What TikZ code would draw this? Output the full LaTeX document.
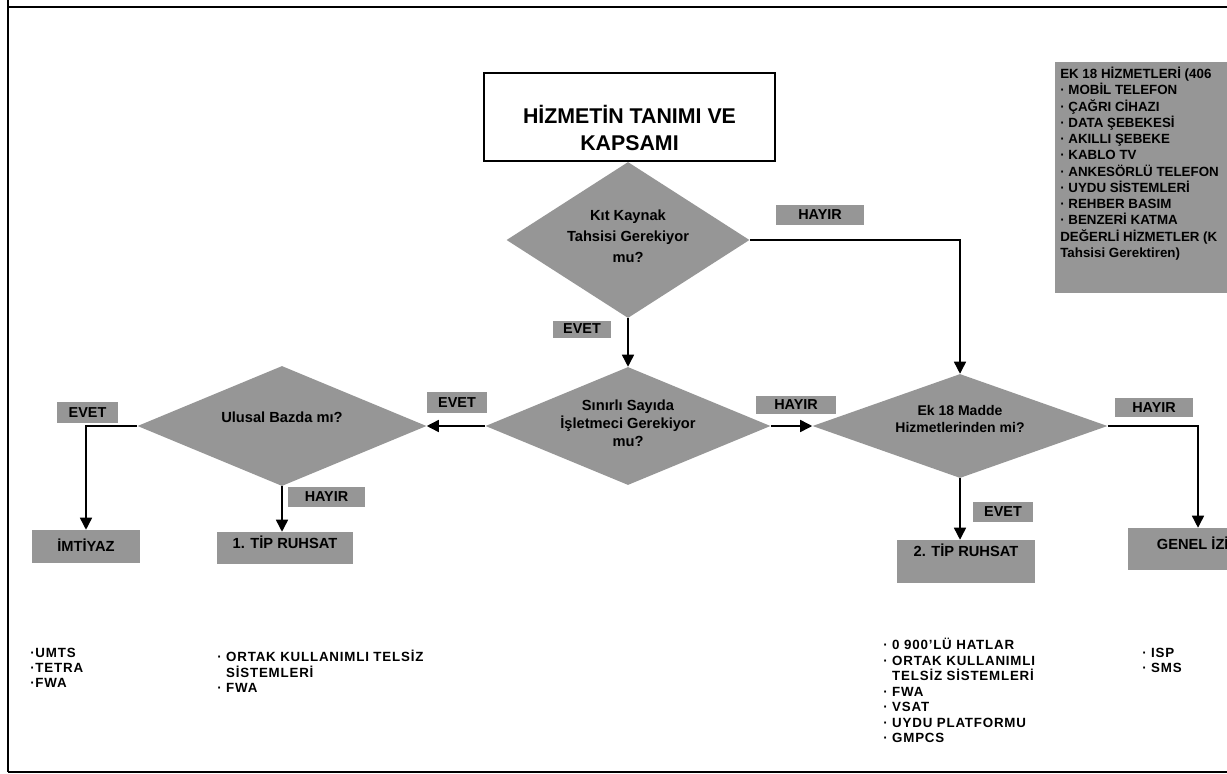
\documentclass[tikz,border=0pt]{standalone}
\usepackage{fontspec}
\setmainfont{Liberation Sans}
\newfontfamily\listefont{Liberation Sans}[LetterSpace=6]
\usetikzlibrary{arrows.meta, calc, positioning, shapes.geometric}
\definecolor{kutugri}{HTML}{969696}

\begin{document}
\begin{tikzpicture}[x=0.75pt, y=-0.75pt,
        karar/.style={diamond, fill=kutugri, inner sep=0pt},
        kararyazi/.style={font=\bfseries\fontsize{11}{13.5}\selectfont,
          align=center, inner sep=0pt},
        etiket/.style={fill=kutugri, inner sep=0pt,
          font=\bfseries\fontsize{10.8}{12}\selectfont},
        sonuc/.style={fill=kutugri, inner sep=0pt},
        sonucyazi/.style={font=\bfseries\fontsize{11}{12}\selectfont, inner sep=0pt},
        liste/.style={anchor=base west, align=left, inner sep=0pt,
          font=\listefont\bfseries\fontsize{10}{11.6}\selectfont},
        ok/.style={-{Triangle[width=9pt,length=9pt]}, line width=1.1pt},
        hat/.style={line width=1.1pt}
      ]
      \useasboundingbox (0,0) rectangle (1227,774);
      \clip (0,0) rectangle (1227,774);

      % page frame
      \draw[line width=1.3pt] (8,0) -- (8,772);
      \draw[line width=1.3pt] (8,7) -- (1227,7);
      \draw[line width=1.3pt] (8,772) -- (1227,772);

      % title
      \node[draw, line width=1.1pt, minimum width=218.25pt, minimum height=66pt]
        (baslik) at (629.5,117) {};
      \node[font=\bfseries\fontsize{16}{20}\selectfont, align=center, inner sep=0pt]
        (basliky) at (629.5,128) {HİZMETİN TANIMI VE\\KAPSAMI};

      % decisions
      \node[karar, minimum width=182.25pt, minimum height=117pt] (kit) at (628,240) {};
      \node[kararyazi, font=\bfseries\fontsize{11}{15.75}\selectfont] (kity) at (628,236)
        {Kıt Kaynak\\Tahsisi Gerekiyor\\mu?};
      \node[karar, minimum width=213.75pt, minimum height=88.5pt] (sinirli) at (628,426) {};
      \node[kararyazi] (sinirliy) at (628,423) {Sınırlı Sayıda\\İşletmeci Gerekiyor\\mu?};
      \node[karar, minimum width=221.25pt, minimum height=78pt] (ek) at (960,426) {};
      \node[kararyazi, font=\bfseries\fontsize{10.5}{12.75}\selectfont] (eky) at (960,418.5)
        {Ek 18 Madde\\Hizmetlerinden mi?};
      \node[karar, minimum width=216.75pt, minimum height=90pt] (ulusal) at (282,426) {};
      \node[kararyazi] (ulusaly) at (282,417) {Ulusal Bazda mı?};

      % results
      \node[sonuc, minimum width=81pt, minimum height=24.75pt] (imtiyaz) at (86,546.5) {};
      \node[sonucyazi] (imtiyazy) at (86,545) {İMTİYAZ};
      \node[sonuc, minimum width=102pt, minimum height=24pt] (tipbir) at (285,548) {};
      \node[sonucyazi] (tipbiry) at (285,542) {1. TİP RUHSAT};
      \node[sonuc, minimum width=103.5pt, minimum height=32.25pt] (tipiki) at (966,561.5) {};
      \node[sonucyazi] (tipikiy) at (966,550) {2. TİP RUHSAT};
      \node[sonuc, minimum width=105pt, minimum height=31.5pt] (genel) at (1198,549) {};
      \node[sonucyazi] (genely) at (1198,543) {GENEL İZİN};

      % yes / no tags
      \node[etiket, minimum width=43.5pt, minimum height=12.75pt] (e1) at (582,329) {EVET};
      \node[etiket, minimum width=66pt, minimum height=15pt] (h1) at (820,215) {HAYIR};
      \node[etiket, minimum width=45pt, minimum height=15.75pt] (e2) at (457,402.5) {EVET};
      \node[etiket, minimum width=60pt, minimum height=13.5pt] (h2) at (796,405) {HAYIR};
      \node[etiket, minimum width=58.5pt, minimum height=14.25pt] (h3) at (1154,407.5) {HAYIR};
      \node[etiket, minimum width=45pt, minimum height=15pt] (e3) at (1003,512) {EVET};
      \node[etiket, minimum width=45.75pt, minimum height=15.75pt] (e4) at (87.5,412.5) {EVET};
      \node[etiket, minimum width=57.75pt, minimum height=15pt] (h4) at (326.5,497) {HAYIR};

      % connectors
      \draw[ok] (kit.south) -- (sinirli.north);
      \draw[ok] (kit.east) -- (kit.east -| ek.north) -- (ek.north);
      \draw[ok] (sinirli.east) -- (ek.west);
      \draw[ok] (sinirli.west) -- (ulusal.east);
      \draw[ok] (ek.east) -| (genel.north);
      \draw[ok] (ek.south) -- (ek.south |- tipiki.north);
      \draw[ok] (ulusal.west) -| (imtiyaz.north);
      \draw[ok] (ulusal.south) -- (ulusal.south |- tipbir.north);

      % EK 18 list box (anchored on the baseline of its last line)
      \node[fill=kutugri, inner sep=0pt, anchor=north west, minimum width=250pt,
            minimum height=173.25pt] (ekkutu) at (1055,62) {};
      \node[anchor=base west, align=left, inner sep=0pt,
            font=\bfseries\fontsize{10}{12.2}\selectfont] (ekliste) at (1060,257.5)
        {EK 18 HİZMETLERİ (406\\
         · MOBİL TELEFON\\
         · ÇAĞRI CİHAZI\\
         · DATA ŞEBEKESİ\\
         · AKILLI ŞEBEKE\\
         · KABLO TV\\
         · ANKESÖRLÜ TELEFON\\
         · UYDU SİSTEMLERİ\\
         · REHBER BASIM\\
         · BENZERİ KATMA\\
         DEĞERLİ HİZMETLER (K\\
         Tahsisi Gerektiren)};

      % service lists (anchored on the baseline of their last line)
      \node[liste, font=\listefont\bfseries\fontsize{10}{11.25}\selectfont]
        (lsimtiyaz) at (30,687.5) {·UMTS\\·TETRA\\·FWA};
      \node[liste] (lstipbir) at (217,692.5)
        {· ORTAK KULLANIMLI TELSİZ\\\phantom{· }SİSTEMLERİ\\· FWA};
      \node[liste] (lstipiki) at (883,742.5)
        {· 0 900’LÜ HATLAR\\· ORTAK KULLANIMLI\\\phantom{· }TELSİZ SİSTEMLERİ\\
         · FWA\\· VSAT\\· UYDU PLATFORMU\\· GMPCS};
      \node[liste] (lsgenel) at (1142,672.5) {· ISP\\· SMS};
    \end{tikzpicture}
\end{document}
